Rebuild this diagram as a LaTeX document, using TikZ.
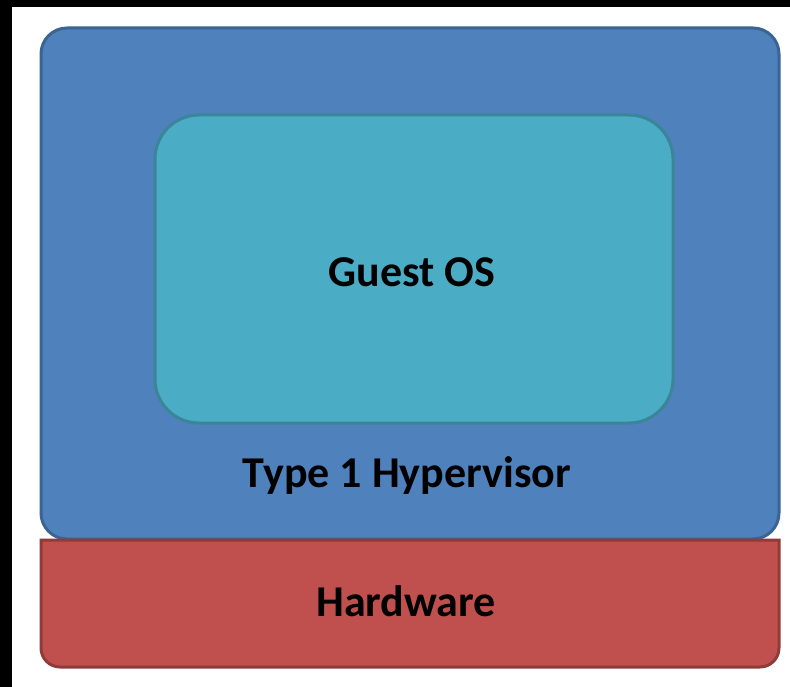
\documentclass[tikz,border=0pt]{standalone}
\usepackage{fontspec}
\setmainfont{Carlito}
\definecolor{hvfill}{HTML}{4F81BD}
\definecolor{hvline}{HTML}{3A6494}
\definecolor{osfill}{HTML}{4BACC6}
\definecolor{osline}{HTML}{3A8597}
\definecolor{hwfill}{HTML}{C0504D}
\definecolor{hwline}{HTML}{8F3B39}
\tikzset{
  lbl/.style={font=\fontsize{44}{44}\selectfont\bfseries, text=black, inner sep=0pt},
}
\begin{document}
\begin{tikzpicture}[x=1pt,y=-1pt]
\useasboundingbox (0,0) rectangle (790,687);
\fill[white] (0,0) rectangle (790,687);
\fill[black] (0,0) rectangle (790,7);
\fill[black] (0,0) rectangle (12,687);
% hypervisor
\draw[hvline, line width=3pt, fill=hvfill, rounded corners=26] (41,28) rectangle (779,539);
% hardware
\draw[hwline, line width=3pt, fill=hwfill] (41,540) -- (41,648)
  arc[start angle=180, end angle=90, radius=19] -- (760,667)
  arc[start angle=90, end angle=0, radius=19] -- (779,540) -- cycle;
% guest OS
\draw[osline, line width=3pt, fill=osfill, rounded corners=44] (155,115) rectangle (673,423);
\node[lbl] (guest) at (412,272) {Guest OS};
\node[lbl] (hyper) at (407,476) {Type 1 Hypervisor};
\node[lbl] (hw) at (406,601) {Hardware};
\end{tikzpicture}
\end{document}
